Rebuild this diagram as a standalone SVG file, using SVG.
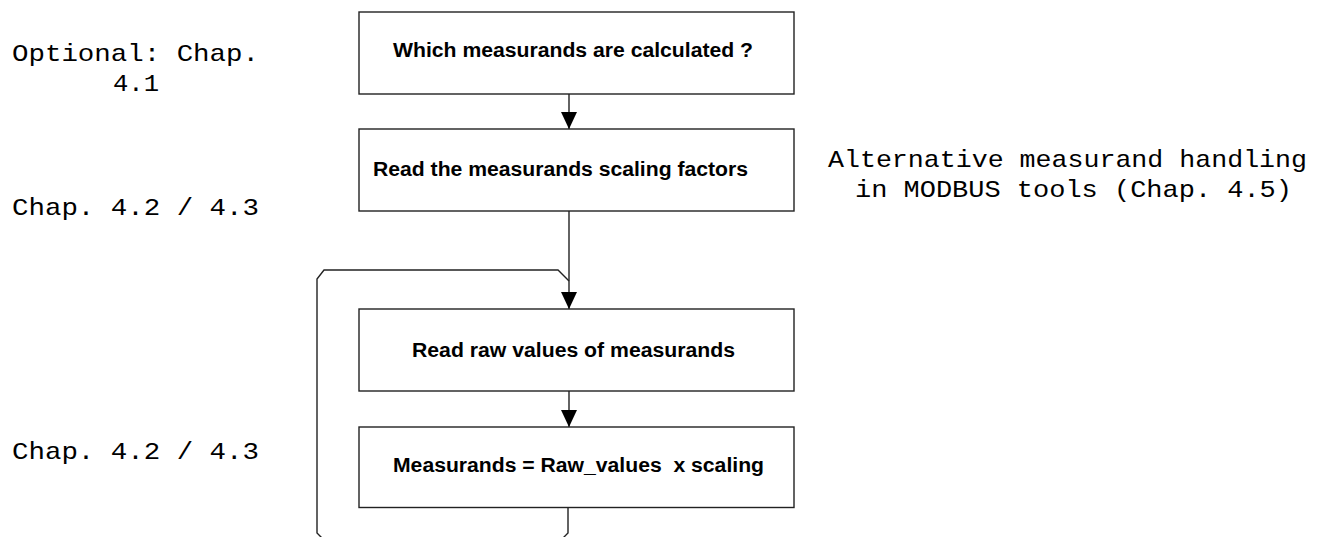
<svg xmlns="http://www.w3.org/2000/svg" width="1328" height="537" viewBox="0 0 1328 537">
  <defs>
    <marker id="arrow" markerUnits="userSpaceOnUse" markerWidth="18" markerHeight="16" viewBox="0 0 18 16" refX="17" refY="8" orient="auto">
      <path d="M0,0 L17,8 L0,16 Z" fill="#000"/>
    </marker>
  </defs>
  <style>
    .box { fill: #fff; stroke: #222; stroke-width: 1.4; }
    .lbl { font-family: "Liberation Sans", Arial, sans-serif; font-weight: bold; font-size: 19.5px; fill: #000; }
    .note { font-family: "Liberation Mono", "Courier New", monospace; font-size: 24px; fill: #000; }
    .wire { fill: none; stroke: #222; stroke-width: 1.4; }
  </style>
  <rect width="1328" height="537" fill="#fff"/>

  <!-- side notes -->
  <g id="notes">
    <text class="note" x="12" y="61" textLength="247" lengthAdjust="spacingAndGlyphs">Optional: Chap.</text>
    <text class="note" x="113" y="91" textLength="46" lengthAdjust="spacingAndGlyphs">4.1</text>
    <text class="note" x="12" y="215" textLength="247" lengthAdjust="spacingAndGlyphs">Chap. 4.2 / 4.3</text>
    <text class="note" x="12" y="459" textLength="247" lengthAdjust="spacingAndGlyphs">Chap. 4.2 / 4.3</text>
    <text class="note" x="828" y="167" textLength="479" lengthAdjust="spacingAndGlyphs">Alternative measurand handling</text>
    <text class="note" x="855" y="197" textLength="437" lengthAdjust="spacingAndGlyphs">in MODBUS tools (Chap. 4.5)</text>
  </g>

  <!-- connectors -->
  <g id="connectors">
    <line class="wire" x1="569" y1="94" x2="569" y2="129" marker-end="url(#arrow)"/>
    <line class="wire" x1="569" y1="211" x2="569" y2="309" marker-end="url(#arrow)"/>
    <line class="wire" x1="569" y1="391" x2="569" y2="427" marker-end="url(#arrow)"/>
    <path class="wire" d="M568,507.5 V533 L563,538 H322 L317,533 V279 L324,270 H558 L569,281"/>
  </g>

  <g id="step-calculated">
    <rect class="box" x="359" y="12" width="435" height="82"/>
    <text class="lbl" x="393" y="57" textLength="360" lengthAdjust="spacingAndGlyphs">Which measurands are calculated ?</text>
  </g>
  <g id="step-scaling">
    <rect class="box" x="359" y="129" width="435" height="82"/>
    <text class="lbl" x="373" y="176" textLength="375" lengthAdjust="spacingAndGlyphs">Read the measurands scaling factors</text>
  </g>
  <g id="step-raw">
    <rect class="box" x="359" y="309" width="435" height="82"/>
    <text class="lbl" x="412" y="357" textLength="323" lengthAdjust="spacingAndGlyphs">Read raw values of measurands</text>
  </g>
  <g id="step-multiply">
    <rect class="box" x="359" y="427" width="435" height="80.5"/>
    <text class="lbl" x="393" y="472" textLength="371" lengthAdjust="spacingAndGlyphs" xml:space="preserve">Measurands = Raw_values  x scaling</text>
  </g>
</svg>
